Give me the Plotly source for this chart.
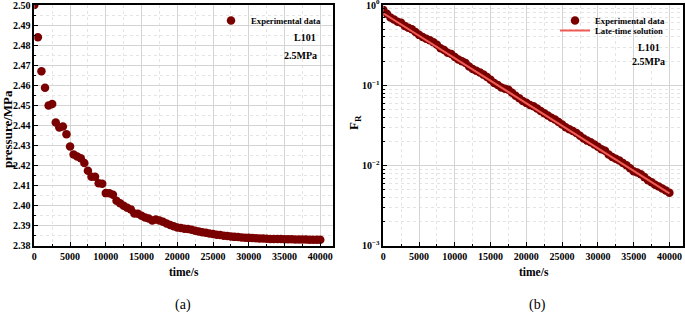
import plotly.graph_objects as go

# ---------------- data ----------------
time_s = [i * 500 for i in range(81)]

pressure_mpa = [
    2.500, 2.484, 2.467, 2.4588, 2.4500, 2.4507, 2.4415, 2.4390, 2.4395, 2.4356,
    2.4295, 2.4256, 2.4245, 2.4237, 2.4213, 2.4175, 2.4145, 2.4145, 2.4112, 2.4110,
    2.4063, 2.4062, 2.4055, 2.4025, 2.4013, 2.4000, 2.3990, 2.3982, 2.3962, 2.3960,
    2.3950, 2.3942, 2.3936, 2.3927, 2.3931, 2.3927, 2.3920, 2.3912, 2.3904, 2.3898,
    2.3892, 2.3889, 2.3886, 2.3884, 2.3880, 2.3875, 2.3872, 2.3868, 2.3866, 2.3862,
    2.3859, 2.3856, 2.3854, 2.3851, 2.3849, 2.3847, 2.3845, 2.3844, 2.3842, 2.3841,
    2.3840, 2.3839, 2.3838, 2.3837, 2.3837, 2.3836, 2.3835, 2.3835, 2.3834, 2.3834,
    2.3833, 2.3833, 2.3833, 2.3832, 2.3832, 2.3832, 2.3832, 2.3831, 2.3831, 2.3831,
    2.3831,
]

fr_exp = [
    0.87, 0.78, 0.70, 0.66, 0.62, 0.60, 0.55, 0.52, 0.50, 0.46,
    0.425, 0.40, 0.38, 0.365, 0.345, 0.32, 0.29, 0.275, 0.255, 0.245,
    0.225, 0.21, 0.200, 0.19, 0.172, 0.160, 0.152, 0.145, 0.136, 0.127,
    0.117, 0.107, 0.101, 0.094, 0.091, 0.088, 0.081, 0.074, 0.069, 0.064,
    0.0605, 0.057, 0.055, 0.0515, 0.048, 0.045, 0.042, 0.0395, 0.0375, 0.035,
    0.0325, 0.030, 0.0285, 0.027, 0.0255, 0.0235, 0.0218, 0.0205, 0.0195, 0.0183,
    0.0172, 0.0160, 0.0153, 0.0138, 0.0128, 0.0122, 0.0116, 0.0108, 0.0101, 0.0093,
    0.0085, 0.0082, 0.0078, 0.0072, 0.0066, 0.0062, 0.0058, 0.0055, 0.0052, 0.0049,
    0.0046,
]

late_time_t = [0, 40000]
late_time_fr = [0.788, 0.00452]

x_ticks = [0, 5000, 10000, 15000, 20000, 25000, 30000, 35000, 40000]
p_ticks = [2.38, 2.39, 2.40, 2.41, 2.42, 2.43, 2.44, 2.45, 2.46, 2.47, 2.48, 2.49, 2.50]
fr_ticks = [1, 0.1, 0.01, 0.001]
fr_tick_text = ["10<sup>0</sup>", "10<sup>\u22121</sup>", "10<sup>\u22122</sup>", "10<sup>\u22123</sup>"]

# ---------------- styling ----------------
SERIF = "Liberation Serif"
DARK_RED = "#7a0000"
LINE_RED = "#f05a55"
GRID = "#d4d4d4"
MINOR_GRID = "#e4e4e4"

W, H = 685, 315
def px_x(p):
    return p / W
def px_y(p):
    return 1 - p / H

fig = go.Figure()

fig.add_trace(go.Scatter(
    x=time_s, y=pressure_mpa, mode="markers", name="<b>Experimental data</b>",
    marker=dict(color=DARK_RED, size=8.5, line=dict(width=0)),
    xaxis="x", yaxis="y", legend="legend",
))
fig.add_trace(go.Scatter(
    x=time_s, y=fr_exp, mode="markers", name="<b>Experimental data</b>",
    marker=dict(color=DARK_RED, size=8.5, line=dict(width=0)),
    xaxis="x2", yaxis="y2", legend="legend2",
))
fig.add_trace(go.Scatter(
    x=late_time_t, y=late_time_fr, mode="lines", name="<b>Late-time solution</b>",
    line=dict(color=LINE_RED, width=2),
    xaxis="x2", yaxis="y2", legend="legend3",
))

tickfont = dict(family=SERIF, size=10, color="black")
common_x = dict(
    showline=True, linecolor="black", linewidth=1.5, mirror=True, automargin=False,
    ticks="inside", ticklen=4, tickwidth=1, tickcolor="black",
    tickvals=x_ticks, ticktext=[f"<b>{v}</b>" for v in x_ticks],
    tickfont=tickfont, showgrid=True, gridcolor=GRID, gridwidth=1,
    minor=dict(dtick=2500, showgrid=True, gridcolor=MINOR_GRID, griddash="dot",
               ticks="inside", ticklen=2, tickcolor="black"),
    zeroline=False,
)

legend_common = dict(
    xanchor="left", yanchor="top", bgcolor="rgba(0,0,0,0)", borderwidth=0,
    font=dict(family=SERIF, size=8.7, color="black"), itemwidth=30, tracegroupgap=0,
)

fig.update_layout(
    template="none",
    width=W, height=H,
    margin=dict(l=0, r=0, t=0, b=0, pad=0, autoexpand=False),
    paper_bgcolor="white", plot_bgcolor="white",
    font=dict(family=SERIF, color="black"),
    xaxis=dict(domain=[px_x(34.3), px_x(333)], range=[0, 41780], anchor="y", **common_x),
    yaxis=dict(
        domain=[px_y(246), px_y(5)], range=[2.37995, 2.50005], anchor="x", automargin=False,
        showline=True, linecolor="black", linewidth=1.5, mirror=True,
        ticks="inside", ticklen=4, tickcolor="black",
        tickvals=p_ticks, ticktext=[f"<b>{v:.2f}</b>" for v in p_ticks],
        tickfont=tickfont, showgrid=True, gridcolor=GRID,
        minor=dict(dtick=0.005, showgrid=True, gridcolor=MINOR_GRID, griddash="dot",
                   ticks="inside", ticklen=2, tickcolor="black"),
        zeroline=False, ticklabeloverflow="allow",
    ),
    xaxis2=dict(domain=[px_x(383.3), px_x(683)], range=[0, 41900], anchor="y2", **common_x),
    yaxis2=dict(
        domain=[px_y(246), px_y(5)], type="log", range=[-3.0003, 0.0003], anchor="x2",
        automargin=False,
        showline=True, linecolor="black", linewidth=1.5, mirror=True,
        ticks="inside", ticklen=4, tickcolor="black",
        tickvals=fr_ticks, ticktext=[f"<b>{t}</b>" for t in fr_tick_text],
        tickfont=tickfont, showgrid=True, gridcolor=GRID,
        minor=dict(tickvals=[m * 10 ** e for e in (-3, -2, -1) for m in range(2, 10)],
                   showgrid=True, gridcolor=MINOR_GRID, griddash="dot",
                   ticks="inside", ticklen=2, tickcolor="black"),
        zeroline=False, ticklabeloverflow="allow",
    ),
    legend=dict(x=px_x(211), y=px_y(6), **legend_common),
    legend2=dict(x=px_x(555), y=px_y(6), **legend_common),
    legend3=dict(x=px_x(555), y=px_y(16), **legend_common),
    showlegend=True,
)

def ann(text, x, y, size=10, xanchor="center", angle=0):
    fig.add_annotation(
        text=text, x=px_x(x), y=px_y(y), xref="paper", yref="paper",
        showarrow=False, xanchor=xanchor, yanchor="middle", textangle=angle,
        font=dict(family=SERIF, size=size, color="black"),
    )

ann("<b>L101</b>", 318, 37, size=10, xanchor="right")
ann("<b>2.5MPa</b>", 319, 55, size=10, xanchor="right")
ann("<b>L101</b>", 662, 47, size=10, xanchor="right")
ann("<b>2.5MPa</b>", 667, 62, size=10, xanchor="right")

ann("<b>time/s</b>", 184, 272, size=11.5)
ann("<b>time/s</b>", 534, 272, size=11.5)
ann("<b>pressure/MPa</b>", 7, 129, size=13, angle=-90)
ann("<b>F<sub>R</sub></b>", 355, 123, size=13, angle=-90)
ann("(a)", 183, 305, size=14)
ann("(b)", 537, 305, size=14)

fig.write_html("out.html", config={"displayModeBar": False},
               post_script="document.body.style.margin='0px';")
